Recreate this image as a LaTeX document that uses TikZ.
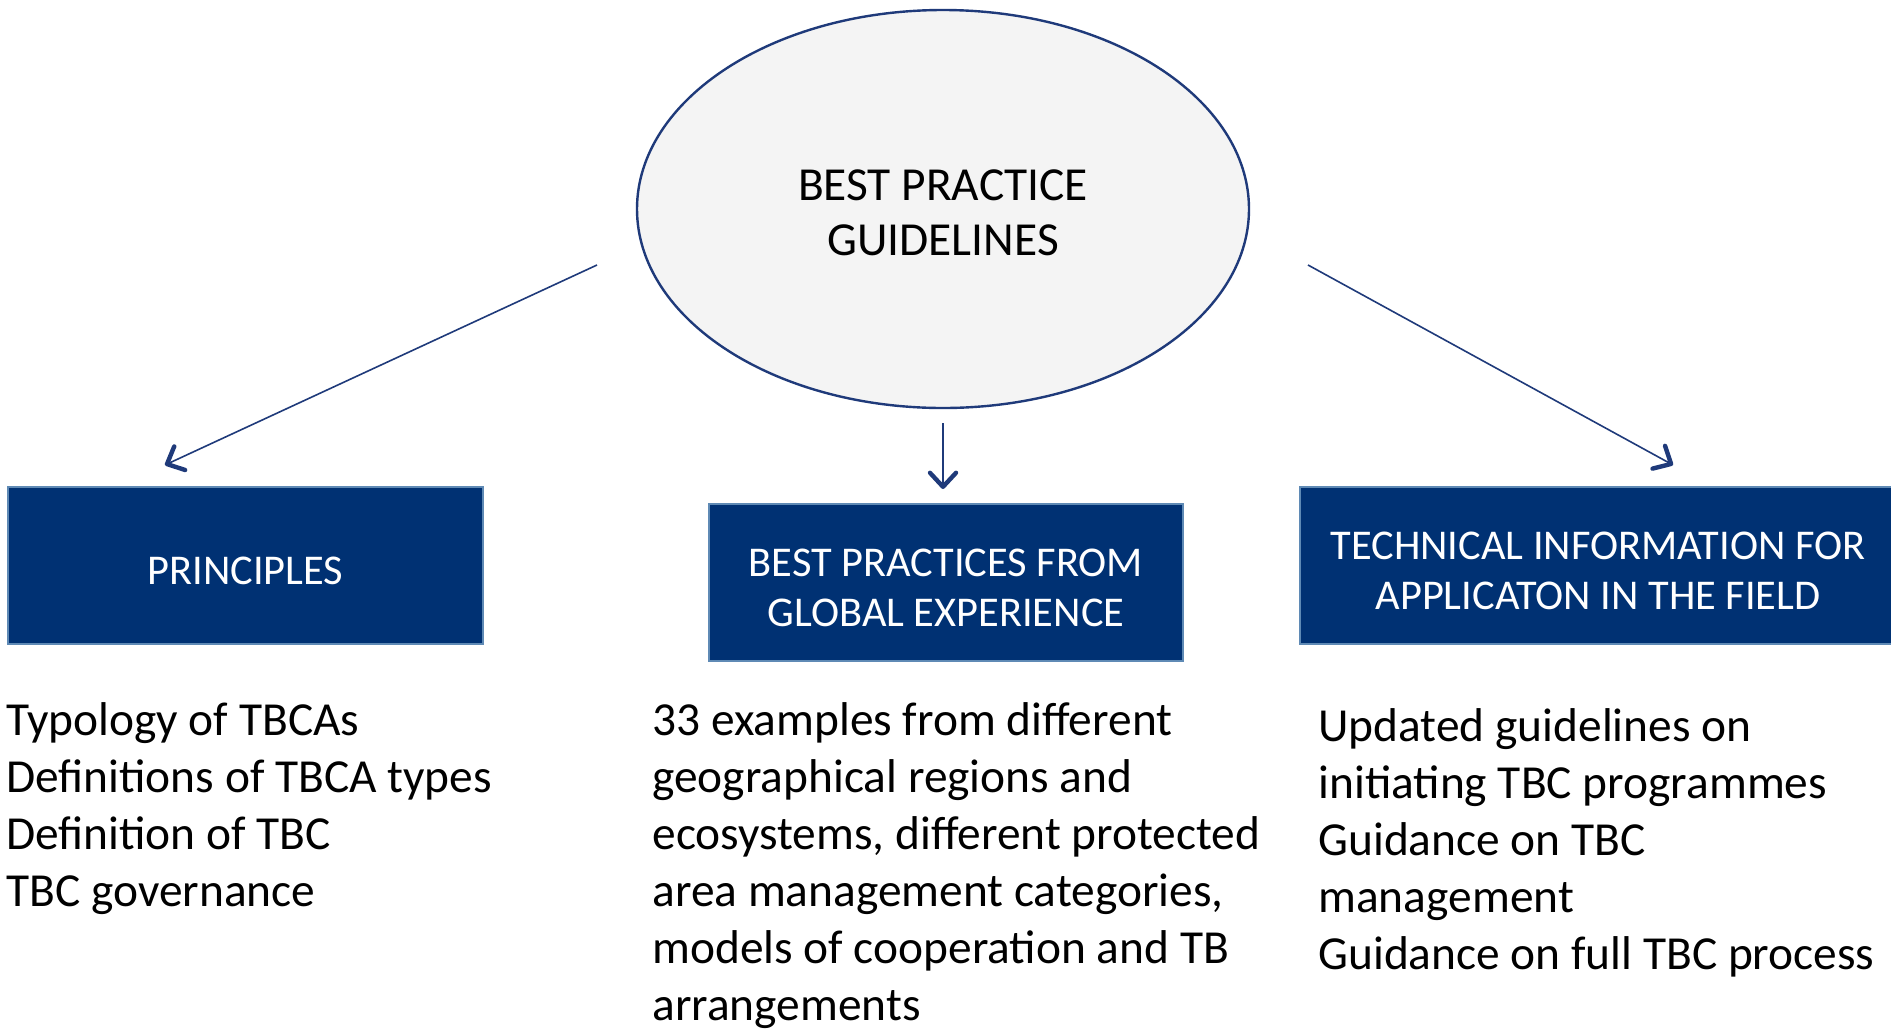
\documentclass[tikz,border=0pt]{standalone}
\usepackage{fontspec}
\setmainfont{Carlito}
\usetikzlibrary{shapes.geometric,arrows.meta}

\definecolor{navy}{HTML}{003173}
\definecolor{navyline}{HTML}{1F3A7A}
\definecolor{boxedge}{HTML}{5F8AB5}
\definecolor{ovalfill}{HTML}{F4F4F4}

\newcommand{\capstrut}{\rule{0pt}{19pt}}

\tikzset{
	headbox/.style={draw=boxedge,line width=1pt,fill=navy,text=white,align=center,inner sep=0pt,minimum height=78.5pt,font=\fontsize{21.2pt}{25.3pt}\selectfont},
	bodytext/.style={anchor=base west,align=left,inner sep=0pt,font=\fontsize{23.7pt}{28.5pt}\selectfont},
	pointer/.style={-{Straight Barb[length=7pt,width=13pt,line width=2.2pt,round]},line width=0.8pt,color=navyline}
}

\begin{document}
\begin{tikzpicture}[x=0.5pt,y=-0.5pt]
	\useasboundingbox (0,0) rectangle (1891,1029);
	% top oval
	\node[draw=navyline,line width=1.2pt,fill=ovalfill,ellipse,inner sep=0pt,minimum width=306pt,minimum height=199pt,align=center,font=\fontsize{23.7pt}{27.7pt}\selectfont] (guide) at (943,209) {\capstrut BEST PRACTICE\\GUIDELINES};
	% the three boxes
	\node[headbox,minimum width=237.5pt] (princ) at (245.5,565.5) {\capstrut PRINCIPLES};
	\node[headbox,minimum width=237pt] (global) at (946,582.5) {\capstrut BEST PRACTICES FROM\\GLOBAL EXPERIENCE};
	\node[headbox,minimum width=298pt] (tech) at (1598,565.5) {\capstrut TECHNICAL INFORMATION FOR\\APPLICATON IN THE FIELD};
	% lists below (placed at the last baseline)
	\node[bodytext] (princtext) at (6,906) {Typology of TBCAs\\Definitions of TBCA types\\Definition of TBC\\TBC governance};
	\node[bodytext] (globaltext) at (652,1020) {33 examples from different\\geographical regions and\\ecosystems, different protected\\area management categories,\\models of cooperation and TB\\arrangements};
	\node[bodytext] (techtext) at (1318,969) {Updated guidelines on\\initiating TBC programmes\\Guidance on TBC\\management\\Guidance on full TBC process};
	\coordinate (lstart) at (597,265);
	\coordinate (lend) at (165,465);
	\coordinate (rstart) at (1308,265);
	\coordinate (rend) at (1673,465);
	\draw[pointer] (lstart) -- (lend);
	\draw[pointer,shorten <=7pt,shorten >=7pt] (guide.south) -- (guide.south |- global.north);
	\draw[pointer] (rstart) -- (rend);
\end{tikzpicture}
\end{document}
